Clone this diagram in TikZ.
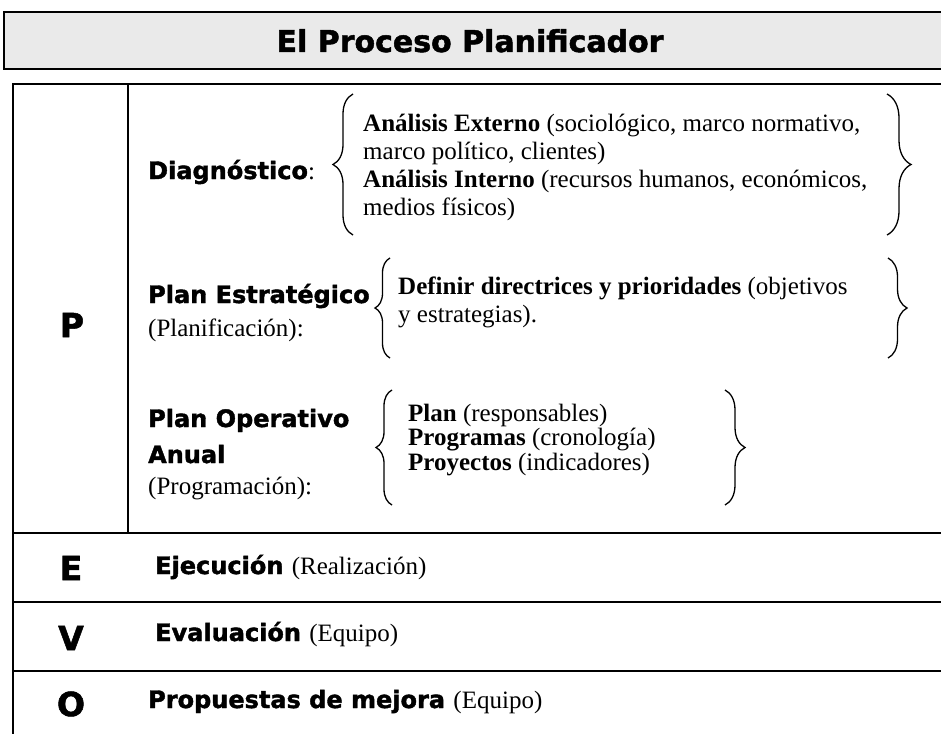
\documentclass[tikz,border=0pt]{standalone}
\usepackage{fontspec}
\setmainfont{Liberation Serif}
\newfontfamily\heavy{DejaVu Sans Bold}[FakeBold=1.6]
\usetikzlibrary{decorations.pathreplacing}
\definecolor{titleFill}{HTML}{EAEAEA}
\newcommand\regtext[1]{{\rmfamily\fontsize{25}{29}\selectfont #1}}

\begin{document}
\begin{tikzpicture}[x=1pt, y=-1pt,
  rule/.style={line width=2pt, draw=black},
  divider/.style={line width=1.4pt, draw=black},
  lbl/.style={font=\heavy\fontsize{24}{28}\selectfont, anchor=base west, inner sep=0pt},
  txt/.style={font=\fontsize{25}{29}\selectfont, anchor=base west, inner sep=0pt},
  letter/.style={font=\heavy\fontsize{33}{36}\selectfont, anchor=base, inner sep=0pt},
  ttl/.style={font=\heavy\fontsize{30}{34}\selectfont, anchor=base, inner sep=0pt},
  brc/.style={decorate, decoration={brace, amplitude=#1}, line width=1.3pt},
]
\useasboundingbox (0,0) rectangle (941,733);

% ---------------- TITLE BAR ----------------
\draw[rule, fill=titleFill] (4,12) rectangle (960,69);
\node[ttl] (title) at (470,52) {El Proceso Planificador};

% ---------------- TABLE FRAME ----------------
\draw[rule, line width=2.4pt] (13,740) -- (13,84) -- (960,84);
\draw[divider] (128,84) -- (128,533);
\foreach \y in {533,602,671} \draw[rule] (13,\y) -- (960,\y);

% ---------------- P : three stages ----------------
\node[letter] (letP) at (72,337) {P};

% Diagnostico
\node[lbl] (diag) at (148,179) {Diagnóstico\regtext{:}};
\draw[brc=20] (353,235) -- (353,94);
\draw[brc=24] (887,94) -- (887,235);
\foreach \t [count=\i from 0] in {
    {\textbf{Análisis Externo} (sociológico, marco normativo,},
    {marco político, clientes)},
    {\textbf{Análisis Interno} (recursos humanos, económicos,},
    {medios físicos)}}
  \node[txt] (diag\i) at (363,131+28*\i) {\t};

% Plan estrategico
\node[lbl] (plEst) at (148,303) {Plan Estratégico};
\node[txt] (plEstSub) at (148,336) {(Planificación):};
\draw[brc=15] (390,358) -- (390,258);
\draw[brc=19] (888,258) -- (888,358);
\node[txt] (est0) at (398,294) {\textbf{Definir directrices y prioridades} (objetivos};
\node[txt] (est1) at (398,322) {y estrategias).};

% Plan operativo anual
\node[lbl] (plOp) at (148,427) {Plan Operativo};
\node[lbl] (plOpB) at (148,463) {Anual};
\node[txt] (plOpSub) at (148,494) {(Programación):};
\draw[brc=16] (392,505) -- (392,390);
\draw[brc=20] (725,390) -- (725,505);
\foreach \t [count=\i from 0] in {
    {\textbf{Plan} (responsables)},
    {\textbf{Programas} (cronología)},
    {\textbf{Proyectos} (indicadores)}}
  \node[txt] (op\i) at (408,421+24.5*\i) {\t};

% ---------------- E / V / O ----------------
\node[letter] (letE) at (71,580) {E};
\node[lbl] (ejec) at (155,574) {Ejecución \regtext{(Realización)}};
\node[letter] (letV) at (71,650) {V};
\node[lbl] (eval) at (155,641) {Evaluación \regtext{(Equipo)}};
\node[letter] (letO) at (71,716) {O};
\node[lbl] (prop) at (148,708) {Propuestas de mejora \regtext{(Equipo)}};
\end{tikzpicture}
\end{document}
